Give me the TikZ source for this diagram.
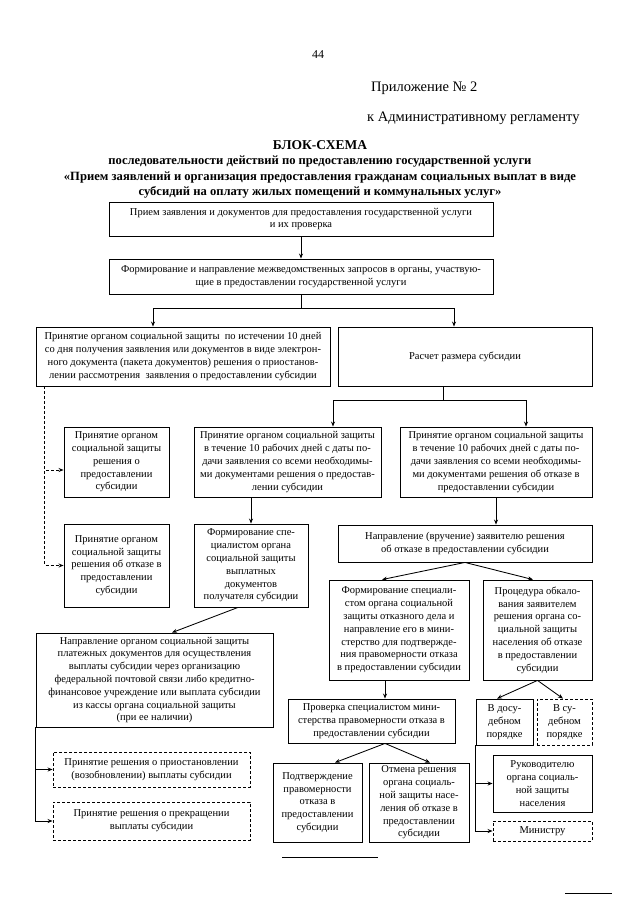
\documentclass[tikz,border=0pt]{standalone}
\usepackage{fontspec}
\setmainfont{Liberation Serif}
\usetikzlibrary{arrows.meta}
\tikzset{
  box/.style={draw, line width=0.85pt, inner sep=0pt, align=center, font=\fontsize{10.5}{12.8}\selectfont},
  dbox/.style={densely dashed},
  arr/.style={line width=0.85pt, -{Stealth[length=5pt,width=4pt]}},
  darr/.style={arr, densely dashed},
  ln/.style={line width=0.85pt},
  hdr/.style={font=\fontsize{14.5}{16}\selectfont, anchor=west, inner sep=0pt},
  ttl/.style={font=\bfseries\fontsize{12.6}{14}\selectfont, inner sep=0pt}
}
\newcommand{\bx}[7][]{\node[box,#1,minimum width={#5-#3},minimum height={#6-#4}] (#2) at ({(#3+#5)/2},{(#4+#6)/2}) {#7};}
\begin{document}
\begin{tikzpicture}[x=1pt,y=-1pt]
\fill[white] (0,0) rectangle (640,905);
\useasboundingbox (0,0) rectangle (640,905);

% header
\node[font=\fontsize{12}{14}\selectfont, inner sep=0pt] (pg) at (318,55) {44};
\node[hdr] (app) at (371,88) {Приложение № 2};
\node[hdr] (reg) at (367,118) {к Административному регламенту};
\node[ttl, font=\bfseries\fontsize{13.5}{15}\selectfont] (t1) at (320,145) {БЛОК-СХЕМА};
\node[ttl] (t2) at (320,162) {последовательности действий по предоставлению государственной услуги};
\node[ttl] (t3) at (320,177.5) {«Прием заявлений и организация предоставления гражданам социальных выплат в виде};
\node[ttl] (t4) at (320,192.5) {субсидий на оплату жилых помещений и коммунальных услуг»};

% boxes
\bx{b1}{109}{202}{493}{236}{Прием заявления и документов для предоставления государственной услуги\\и их проверка}
\bx{b2}{109}{259}{493}{294}{Формирование и направление межведомственных запросов в органы, участвую-\\щие в предоставлении государственной услуги}
\bx{b3}{36}{327}{330}{386}{Принятие органом социальной защиты\ \ по истечении 10 дней\\со дня получения заявления или документов в виде электрон-\\ного документа (пакета документов) решения о приостанов-\\лении рассмотрения\ \ заявления о предоставлении субсидии}
\bx{b4}{338}{327}{592}{386}{Расчет размера субсидии}
\bx{b5}{64}{427}{169}{497}{Принятие органом\\социальной защиты\\решения о\\предоставлении\\субсидии}
\bx{b6}{194}{427}{381}{497}{Принятие органом социальной защиты\\в течение 10 рабочих дней с даты по-\\дачи заявления со всеми необходимы-\\ми документами решения о предостав-\\лении субсидии}
\bx{b7}{400}{427}{592}{497}{Принятие органом социальной защиты\\в течение 10 рабочих дней с даты по-\\дачи заявления со всеми необходимы-\\ми документами решения об отказе в\\предоставлении субсидии}
\bx{b8}{64}{524}{169}{607}{Принятие органом\\социальной защиты\\решения об отказе в\\предоставлении\\субсидии}
\bx{b9}{194}{524}{308}{607}{Формирование спе-\\циалистом органа\\социальной защиты\\выплатных\\документов\\получателя субсидии}
\bx{b10}{338}{525}{592}{562}{Направление (вручение) заявителю решения\\об отказе в предоставлении субсидии}
\bx{b11}{36}{633}{273}{727}{Направление органом социальной защиты\\платежных документов для осуществления\\выплаты субсидии через организацию\\федеральной почтовой связи либо кредитно-\\финансовое учреждение или выплата субсидии\\из кассы органа социальной защиты\\(при ее наличии)}
\bx{b12}{329}{580}{469}{680}{Формирование специали-\\стом органа социальной\\защиты отказного дела и\\направление его в мини-\\стерство для подтвержде-\\ния правомерности отказа\\в предоставлении субсидии}
\bx{b13}{483}{580}{592}{680}{Процедура обкало-\\вания заявителем\\решения органа со-\\циальной защиты\\населения об отказе\\в предоставлении\\субсидии}
\bx{b14}{288}{699}{455}{743}{Проверка специалистом мини-\\стерства правомерности отказа в\\предоставлении субсидии}
\bx{b15}{476}{699}{533}{745}{В досу-\\дебном\\порядке}
\bx[dbox]{b16}{537}{699}{592}{745}{В су-\\дебном\\порядке}
\bx{b17}{493}{755}{592}{812}{Руководителю\\органа социаль-\\ной защиты\\населения}
\bx[dbox]{b18}{493}{821}{592}{841}{Министру}
\bx{b19}{273}{763}{362}{842}{Подтверждение\\правомерности\\отказа в\\предоставлении\\субсидии}
\bx{b20}{369}{763}{469}{842}{Отмена решения\\органа социаль-\\ной защиты насе-\\ления об отказе в\\предоставлении\\субсидии}
\bx[dbox]{b21}{53}{752}{250}{787}{Принятие решения о приостановлении\\(возобновлении) выплаты субсидии}
\bx[dbox]{b22}{53}{802}{250}{840}{Принятие решения о прекращении\\выплаты субсидии}

% connectors
\draw[arr] (b1) -- (b2);
\coordinate (j1) at (301,308);
\draw[ln] (b2.south) -- (j1);
\draw[arr] (j1) -| ([xshift=-30pt]b3.north);
\draw[arr] (j1) -| ([xshift=-11pt]b4.north);
\coordinate (j2) at (443,400);
\draw[ln] ([xshift=-22pt]b4.south) -- (j2);
\draw[arr] (j2) -| ([xshift=45.5pt]b6.north);
\draw[arr] (j2) -| ([xshift=30pt]b7.north);
\draw[darr] ([xshift=9pt]b3.south west) |- ([yshift=-8pt]b5.west);
\draw[darr] ([xshift=9pt]b3.south west) |- (b8.west);
\draw[arr] (b6.south -| b9.north) -- (b9.north);
\draw[arr] (b7.south) -- (b7.south |- b10.north);
\draw[arr] ([xshift=-13pt]b9.south) -- ([xshift=17.5pt]b11.north);
\draw[arr] (b10.south) -- ([xshift=-17pt]b12.north);
\draw[arr] (b10.south) -- ([xshift=-4.5pt]b13.north);
\draw[arr] ([xshift=-14pt]b12.south) -- ([xshift=-14pt]b12.south |- b14.north);
\draw[arr] (b13.south) -- ([xshift=-7.5pt]b15.north);
\draw[arr] (b13.south) -- ([xshift=-1.5pt]b16.north);
\draw[arr] (b15.south west) |- (b17.west);
\draw[arr] (b15.south west) |- (b18.west);
\draw[arr] ([xshift=13.5pt]b14.south) -- ([xshift=17.5pt]b19.north);
\draw[arr] ([xshift=13.5pt]b14.south) -- ([xshift=11pt]b20.north);
\draw[arr] (b11.south west) |- (b21.west);
\draw[arr] (b11.south west) |- (b22.west);

% rules
\coordinate (r1a) at (282,857);
\coordinate (r1b) at (378,857);
\draw[ln] (r1a) -- (r1b);
\coordinate (r2a) at (565,893);
\coordinate (r2b) at (612,893);
\draw[ln] (r2a) -- (r2b);
\end{tikzpicture}
\end{document}
